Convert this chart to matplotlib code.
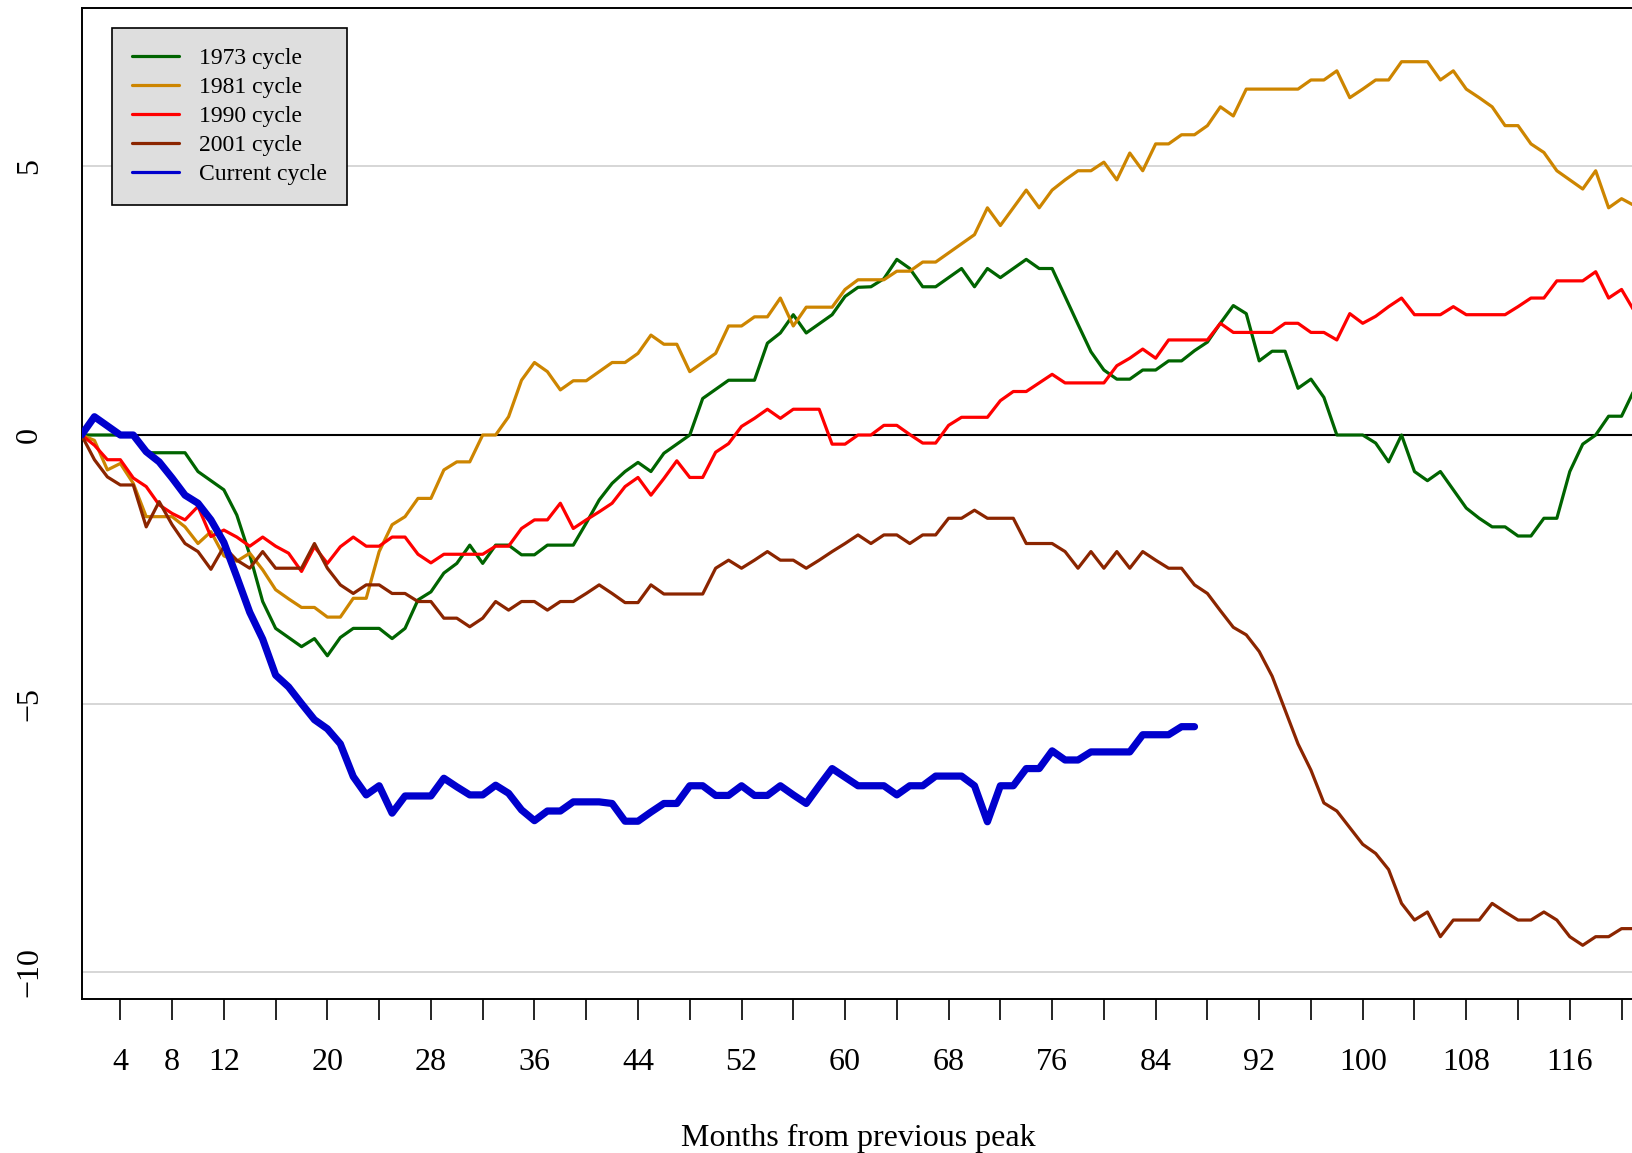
import numpy as np
import matplotlib
matplotlib.use("Agg")
import matplotlib.pyplot as plt

plt.rcParams["font.family"] = ["Liberation Serif", "DejaVu Serif"]

# employment change (%) by month from previous peak
cycle_1973 = [0, 0, 0, 0, 0, -0.33, -0.33, -0.33, -0.33, -0.68,
              -0.85, -1.02, -1.49, -2.23, -3.1, -3.6, -3.77, -3.94, -3.79, -4.11,
              -3.77, -3.6, -3.6, -3.6, -3.79, -3.6, -3.07, -2.92, -2.57, -2.39,
              -2.05, -2.39, -2.05, -2.05, -2.23, -2.23, -2.05, -2.05, -2.05, -1.64,
              -1.21, -0.9, -0.68, -0.51, -0.68, -0.34, -0.17, 0, 0.68, 0.85,
              1.02, 1.02, 1.02, 1.71, 1.9, 2.24, 1.9, 2.07, 2.24, 2.58,
              2.75, 2.76, 2.91, 3.27, 3.1, 2.76, 2.76, 2.93, 3.1, 2.76,
              3.1, 2.93, 3.1, 3.27, 3.1, 3.1, 2.58, 2.06, 1.55, 1.21,
              1.04, 1.04, 1.21, 1.21, 1.38, 1.38, 1.57, 1.73, 2.08, 2.41,
              2.26, 1.38, 1.56, 1.56, 0.87, 1.04, 0.7, 0, 0, 0,
              -0.15, -0.5, 0, -0.68, -0.85, -0.68, -1.02, -1.36, -1.55, -1.71,
              -1.71, -1.88, -1.88, -1.55, -1.55, -0.68, -0.17, 0, 0.35, 0.35,
              0.85]

cycle_1981 = [0, -0.1, -0.65, -0.53, -0.9, -1.52, -1.52, -1.52, -1.71, -2.02,
              -1.8, -2.25, -2.35, -2.2, -2.51, -2.88, -3.05, -3.21, -3.21, -3.39,
              -3.39, -3.04, -3.04, -2.17, -1.67, -1.52, -1.18, -1.18, -0.65, -0.5,
              -0.5, 0, 0, 0.34, 1.02, 1.35, 1.18, 0.84, 1.01, 1.01,
              1.18, 1.35, 1.35, 1.52, 1.86, 1.69, 1.69, 1.18, 1.35, 1.52,
              2.03, 2.03, 2.2, 2.2, 2.55, 2.03, 2.38, 2.38, 2.38, 2.71,
              2.89, 2.89, 2.89, 3.05, 3.05, 3.22, 3.22, 3.39, 3.56, 3.73,
              4.23, 3.9, 4.23, 4.56, 4.23, 4.56, 4.75, 4.92, 4.92, 5.08,
              4.75, 5.25, 4.92, 5.42, 5.42, 5.59, 5.59, 5.76, 6.11, 5.94,
              6.44, 6.44, 6.44, 6.44, 6.44, 6.61, 6.61, 6.78, 6.28, 6.44,
              6.61, 6.61, 6.95, 6.95, 6.95, 6.61, 6.78, 6.44, 6.28, 6.11,
              5.76, 5.76, 5.42, 5.26, 4.92, 4.75, 4.58, 4.92, 4.23, 4.4,
              4.27]

cycle_1990 = [0, -0.19, -0.46, -0.46, -0.8, -0.96, -1.3, -1.46, -1.58, -1.33,
              -1.89, -1.77, -1.9, -2.07, -1.9, -2.07, -2.2, -2.54, -2.08, -2.39,
              -2.08, -1.9, -2.07, -2.07, -1.9, -1.9, -2.22, -2.38, -2.22, -2.22,
              -2.22, -2.22, -2.07, -2.07, -1.74, -1.58, -1.58, -1.27, -1.74, -1.58,
              -1.43, -1.27, -0.96, -0.79, -1.12, -0.81, -0.48, -0.79, -0.79, -0.32,
              -0.16, 0.16, 0.31, 0.48, 0.31, 0.48, 0.48, 0.48, -0.17, -0.17,
              0, 0, 0.18, 0.18, 0.01, -0.15, -0.15, 0.18, 0.33, 0.33,
              0.33, 0.64, 0.81, 0.81, 0.97, 1.13, 0.97, 0.97, 0.97, 0.97,
              1.29, 1.43, 1.6, 1.43, 1.77, 1.77, 1.77, 1.77, 2.08, 1.91,
              1.91, 1.91, 1.91, 2.08, 2.08, 1.91, 1.91, 1.77, 2.26, 2.08,
              2.21, 2.39, 2.55, 2.24, 2.24, 2.24, 2.39, 2.24, 2.24, 2.24,
              2.24, 2.39, 2.55, 2.55, 2.87, 2.87, 2.87, 3.04, 2.55, 2.71,
              2.3]

cycle_2001 = [0, -0.46, -0.78, -0.93, -0.93, -1.71, -1.24, -1.67, -2.02, -2.17,
              -2.5, -2.08, -2.33, -2.48, -2.17, -2.48, -2.48, -2.48, -2.02, -2.48,
              -2.79, -2.95, -2.79, -2.79, -2.95, -2.95, -3.1, -3.1, -3.41, -3.41,
              -3.57, -3.41, -3.1, -3.26, -3.1, -3.1, -3.26, -3.1, -3.1, -2.95,
              -2.79, -2.95, -3.12, -3.12, -2.79, -2.96, -2.96, -2.96, -2.96, -2.48,
              -2.33, -2.48, -2.33, -2.17, -2.33, -2.33, -2.48, -2.33, -2.17, -2.02,
              -1.86, -2.02, -1.86, -1.86, -2.02, -1.86, -1.86, -1.55, -1.55, -1.4,
              -1.55, -1.55, -1.55, -2.02, -2.02, -2.02, -2.17, -2.48, -2.17, -2.48,
              -2.17, -2.48, -2.17, -2.33, -2.48, -2.48, -2.79, -2.95, -3.27, -3.58,
              -3.72, -4.03, -4.49, -5.12, -5.75, -6.24, -6.85, -7.0, -7.31, -7.62,
              -7.79, -8.09, -8.72, -9.03, -8.88, -9.34, -9.03, -9.03, -9.03, -8.72,
              -8.88, -9.03, -9.03, -8.88, -9.03, -9.34, -9.5, -9.34, -9.34, -9.19,
              -9.19]

cycle_current = [0, 0.34, 0.17, 0, 0, -0.31, -0.5, -0.8, -1.12, -1.27,
                 -1.58, -2.0, -2.64, -3.3, -3.8, -4.47, -4.69, -5.0, -5.3, -5.47,
                 -5.75, -6.36, -6.7, -6.53, -7.04, -6.72, -6.72, -6.72, -6.39, -6.55,
                 -6.7, -6.7, -6.52, -6.67, -6.98, -7.18, -7.0, -7.0, -6.83, -6.83,
                 -6.83, -6.86, -7.19, -7.19, -7.02, -6.86, -6.86, -6.53, -6.53, -6.71,
                 -6.71, -6.53, -6.71, -6.71, -6.53, -6.7, -6.86, -6.53, -6.21, -6.37,
                 -6.53, -6.53, -6.53, -6.7, -6.53, -6.53, -6.35, -6.35, -6.35, -6.53,
                 -7.2, -6.53, -6.53, -6.21, -6.21, -5.88, -6.05, -6.05, -5.9, -5.9,
                 -5.9, -5.9, -5.58, -5.58, -5.58, -5.43, -5.43]

series_labels = ["1973 cycle", "1981 cycle", "1990 cycle", "2001 cycle", "Current cycle"]
series_colors = ["#006400", "#CD8500", "#FF0000", "#8B2500", "#0000CD"]

x_ticks = list(range(4, 121, 4))
x_tick_labels = ["4", "8", "12", "", "20", "", "28", "", "36", "", "44", "",
                 "52", "", "60", "", "68", "", "76", "", "84", "", "92", "",
                 "100", "", "108", "", "116", ""]
y_ticks = [-10, -5, 0, 5]
y_tick_labels = ["\u221210", "\u22125", "0", "5"]

fig = plt.figure(figsize=(16.32, 11.53), dpi=100)
ax = fig.add_axes([81.5 / 1632, 154 / 1153, 1553 / 1632, 991 / 1153])

for y in [-10, -5, 5]:
    ax.axhline(y, color="#D3D3D3", lw=1.3, zorder=1)
ax.axhline(0, color="black", lw=1.5, zorder=1)

all_series = [cycle_1973, cycle_1981, cycle_1990, cycle_2001, cycle_current]
for vals, lab, col in zip(all_series, series_labels, series_colors):
    months = np.arange(1, len(vals) + 1)
    lw = 5.2 if lab == "Current cycle" else 2.3
    ax.plot(months, vals, color=col, lw=lw, label=lab, zorder=3,
            solid_capstyle="round", solid_joinstyle="round")

ax.set_xlim(1, 121)
ax.set_ylim(-10.5, 7.95)

ax.set_xticks(x_ticks)
ax.set_xticklabels(x_tick_labels)
ax.set_yticks(y_ticks)
ax.set_yticklabels(y_tick_labels, rotation=90, va="center")
ax.tick_params(axis="x", direction="out", length=15, width=1.2, pad=20, labelsize=23)
ax.tick_params(axis="y", length=0, pad=27, labelsize=23)

for sp in ax.spines.values():
    sp.set_linewidth(1.4)

ax.set_xlabel("Months from previous peak", fontsize=23, labelpad=34)

leg = ax.legend(loc="upper left", bbox_to_anchor=(0.0199, 0.980), borderaxespad=0,
                fontsize=17, frameon=True, fancybox=False, edgecolor="black",
                facecolor="#DEDEDE", framealpha=1, handlelength=1.95,
                handletextpad=0.85, labelspacing=0.31, borderpad=0.85)
leg.get_frame().set_linewidth(1.2)
for line in leg.get_lines():
    line.set_linewidth(2.3)

fig.savefig("out.png", dpi=100)
